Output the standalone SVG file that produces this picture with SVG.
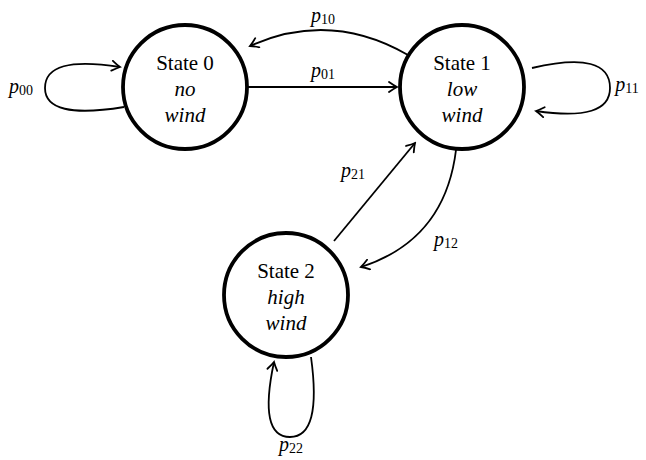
<svg xmlns="http://www.w3.org/2000/svg" width="646" height="460" viewBox="0 0 646 460">
<style>
.st{fill:#fff;stroke:#000;stroke-width:3.8}
.t{font-family:"Liberation Serif","DejaVu Serif",serif;font-size:21px;text-anchor:middle;fill:#000}
.i{font-style:italic}
.e{fill:none;stroke:#000;stroke-width:1.8;marker-end:url(#ah)}
.l{font-family:"Liberation Serif","DejaVu Serif",serif;font-size:20px;font-style:italic;fill:#000;text-anchor:middle}
.s{font-size:14px;font-style:normal}
</style>
<defs>
<marker id="ah" viewBox="-10 -6 12 12" markerWidth="12" markerHeight="12" refX="0" refY="0" orient="auto" markerUnits="userSpaceOnUse">
<path d="M-8,-5 Q-3,-1.5 0,0 Q-3,1.5 -8,5" fill="none" stroke="#000" stroke-width="1.8" stroke-linecap="round"/>
</marker>
</defs>
<g id="edges">
<path class="e" d="M248,87 L397,87"/>
<path class="e" d="M408,55 Q330,10 250,46"/>
<path class="e" d="M124,107 Q45,120 45,88 Q45,55 120,67"/>
<path class="e" d="M532,68 Q610,50 610,88 Q610,122 536,111"/>
<path class="e" d="M334,241 L415,143"/>
<path class="e" d="M456,150 Q445,240 361,267"/>
<path class="e" d="M311,357 Q322,437 290,437 Q258,437 274,362"/>
</g>
<g id="labels">
<text class="l" x="323" y="77">p<tspan class="s" dy="2">01</tspan></text>
<text class="l" x="323" y="22">p<tspan class="s" dy="2">10</tspan></text>
<text class="l" x="21" y="93">p<tspan class="s" dy="2">00</tspan></text>
<text class="l" x="627" y="91">p<tspan class="s" dy="2">11</tspan></text>
<text class="l" x="353" y="177">p<tspan class="s" dy="2">21</tspan></text>
<text class="l" x="446" y="246">p<tspan class="s" dy="2">12</tspan></text>
<text class="l" x="291" y="451">p<tspan class="s" dy="2">22</tspan></text>
</g>
<g id="state0">
<circle class="st" cx="185" cy="87" r="62"/>
<text class="t" x="185" y="70">State 0</text>
<text class="t i" x="185" y="96">no</text>
<text class="t i" x="185" y="122">wind</text>
</g>
<g id="state1">
<circle class="st" cx="462" cy="87" r="62"/>
<text class="t" x="462" y="70">State 1</text>
<text class="t i" x="462" y="96">low</text>
<text class="t i" x="462" y="122">wind</text>
</g>
<g id="state2">
<circle class="st" cx="286" cy="295" r="62"/>
<text class="t" x="286" y="278">State 2</text>
<text class="t i" x="286" y="304">high</text>
<text class="t i" x="286" y="330">wind</text>
</g>
</svg>
